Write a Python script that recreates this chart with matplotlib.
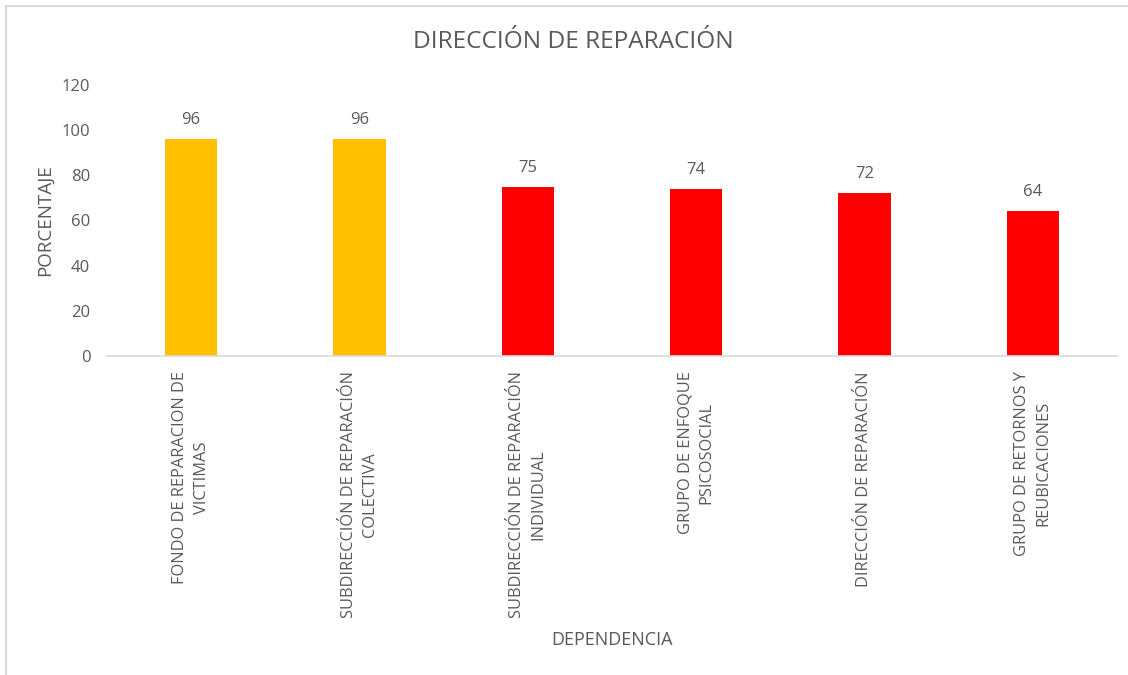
import matplotlib
matplotlib.use("Agg")
import matplotlib.pyplot as plt
from matplotlib.patches import Rectangle

categories = [
    "FONDO DE REPARACION DE\nVICTIMAS",
    "SUBDIRECCIÓN DE REPARACIÓN\nCOLECTIVA",
    "SUBDIRECCIÓN DE REPARACIÓN\nINDIVIDUAL",
    "GRUPO DE ENFOQUE\nPSICOSOCIAL",
    "DIRECCIÓN DE REPARACIÓN",
    "GRUPO DE RETORNOS Y\nREUBICACIONES",
]
values = [96, 96, 75, 74, 72, 64]
colors = ["#FFC000", "#FFC000", "#FF0000", "#FF0000", "#FF0000", "#FF0000"]
yticks = [0, 20, 40, 60, 80, 100, 120]

plt.rcParams['font.family'] = ['Open Sans', 'DejaVu Sans']
txt = "#595959"

fig = plt.figure(figsize=(11.28, 6.75), dpi=100)
W, H = 1128, 675
# chart border
fig.patches.append(Rectangle((6 / W, -0.1), 1.2, (H - 6) / H + 0.1, transform=fig.transFigure,
                             fill=False, edgecolor="#D9D9D9", linewidth=1.5))

ax = fig.add_axes([107 / W, (H - 356) / H, (1117 - 107) / W, (356 - 85) / H])
x = list(range(len(categories)))
bars = ax.bar(x, values, width=0.31, color=colors)
ax.set_xlim(-0.5, len(categories) - 0.5)
ax.set_ylim(0, 120)
ax.set_yticks(yticks)
ax.set_yticklabels([str(t) for t in yticks], color=txt, fontsize=12)
ax.set_xticks(x)
ax.set_xticklabels(categories, rotation=90, color=txt, fontsize=11.8,
                   ha='center', va='top', multialignment='center', linespacing=1.45)
ax.tick_params(axis='both', length=0)
ax.tick_params(axis='y', pad=12)
ax.tick_params(axis='x', pad=11)
for s in ['top', 'right', 'left']:
    ax.spines[s].set_visible(False)
ax.spines['bottom'].set_color("#D9D9D9")
ax.spines['bottom'].set_linewidth(1.2)

for xi, v in zip(x, values):
    ax.annotate(str(v), (xi, v), xytext=(0, 8), textcoords='offset points',
                ha='center', va='bottom', fontsize=12, color=txt)

ax.set_ylabel("PORCENTAJE", color=txt, fontsize=13.5)
ax.yaxis.set_label_coords(-(107 - 54) / (1117 - 107), 0.5)
fig.text(612 / W, 1 - 640 / H, "DEPENDENCIA", ha='center', va='center', color=txt, fontsize=13)
fig.text(573 / W, 1 - 42 / H, "DIRECCIÓN DE REPARACIÓN", ha='center', va='center', color=txt, fontsize=17.6)

fig.savefig("out.png", dpi=100, facecolor='white')
